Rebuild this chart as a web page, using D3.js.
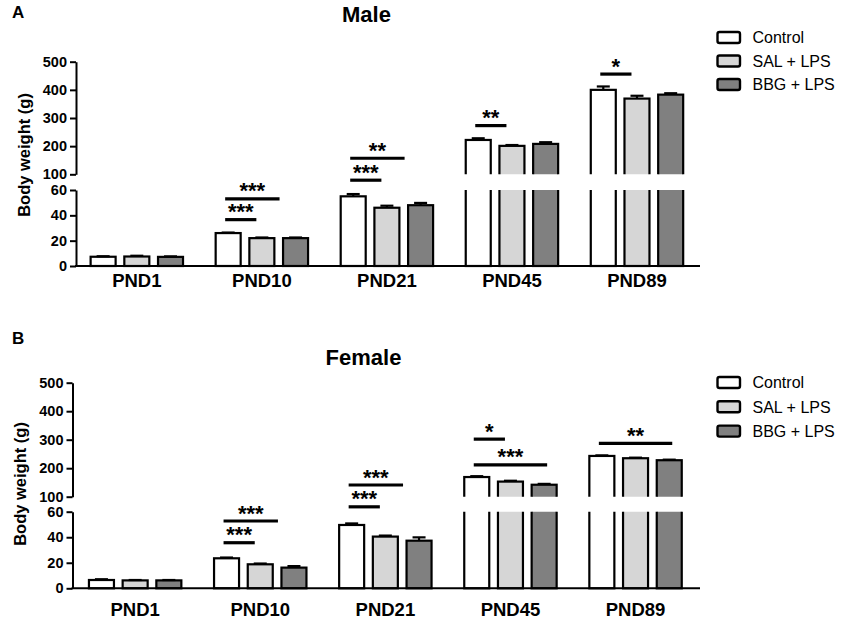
<!DOCTYPE html>
<html><head><meta charset="utf-8">
<script src="https://cdn.jsdelivr.net/npm/d3@7/dist/d3.min.js"></script>
<style>body{margin:0;background:#fff}svg{display:block}</style>
</head><body>
<svg id="chart" width="850" height="619"></svg>
<script>
// ---------- data ----------
const categories = ["PND1", "PND10", "PND21", "PND45", "PND89"];
const seriesNames = ["Control", "SAL + LPS", "BBG + LPS"];

const maleControl    = [7.3, 26, 55, 222, 400];
const maleSAL        = [7.5, 22, 46, 201, 369];
const maleBBG        = [7.2, 22, 48, 208, 383];
const maleControlErr = [0.4, 0.4, 1.8, 6, 12];
const maleSALErr     = [0.6, 0.5, 1.6, 3, 10];
const maleBBGErr     = [0.4, 0.5, 1.8, 6, 5];

const femaleControl    = [6.5, 23.5, 49.6, 169, 243];
const femaleSAL        = [6.2, 18.8, 40.5, 153, 235];
const femaleBBG        = [6.2, 16.2, 37.3, 142, 228];
const femaleControlErr = [0.6, 0.6, 1.2, 3, 2];
const femaleSALErr     = [0.3, 0.6, 0.8, 3, 2];
const femaleBBGErr     = [0.3, 1.2, 2.6, 3, 2];

const yTicksUpper = [100, 200, 300, 400, 500];
const yTicksLower = [0, 20, 40, 60];

// significance: category, from series, to series, level (y value), label
const maleSig = [
  {cat: "PND10", a: 0, b: 2, level: 53, label: "***"},
  {cat: "PND10", a: 0, b: 1, level: 36.6, label: "***"},
  {cat: "PND21", a: 0, b: 2, level: 157, label: "**"},
  {cat: "PND21", a: 0, b: 1, level: 85, label: "***"},
  {cat: "PND45", a: 0, b: 1, level: 273, label: "**"},
  {cat: "PND89", a: 0, b: 1, level: 456, label: "*"}
];
const femaleSig = [
  {cat: "PND10", a: 0, b: 2, level: 52.7, label: "***"},
  {cat: "PND10", a: 0, b: 1, level: 35.7, label: "***"},
  {cat: "PND21", a: 0, b: 2, level: 141, label: "***"},
  {cat: "PND21", a: 0, b: 1, level: 73, label: "***"},
  {cat: "PND45", a: 0, b: 1, level: 302, label: "*"},
  {cat: "PND45", a: 0, b: 2, level: 212, label: "***", wide: true},
  {cat: "PND89", a: 0, b: 2, level: 287, label: "**", wide: true}
];

// ---------- layout ----------
const fills = ["#ffffff", "#d6d6d6", "#808080"];
const FONT = "'Liberation Sans', Arial, Helvetica, sans-serif";
const svg = d3.select("#chart");

const panels = [
  {
    letter: "A", letterY: 18, title: "Male", titleX: 366.5, titleY: 21.5,
    vals: [maleControl, maleSAL, maleBBG], errs: [maleControlErr, maleSALErr, maleBBGErr],
    sig: maleSig,
    axisX: 76, xRange: [74.3, 699.5], yRange: [266, 190, 174.3, 61.7],
    labelPad: 7.7, ytitleX: 30, ytitleY: 155, legendY: 37.5, legendStep: 23.5
  },
  {
    letter: "B", letterY: 343.5, title: "Female", titleX: 363.5, titleY: 365,
    vals: [femaleControl, femaleSAL, femaleBBG], errs: [femaleControlErr, femaleSALErr, femaleBBGErr],
    sig: femaleSig,
    axisX: 72.5, xRange: [72.6, 698.1], yRange: [588.3, 511.7, 496.7, 382.7],
    labelPad: 14.3, ytitleX: 26, ytitleY: 484, legendY: 382.5, legendStep: 24.3
  }
];

panels.forEach((p, pi) => {
  const g = svg.append("g");
  const y = d3.scaleLinear().domain([0, 60, 100, 500]).range(p.yRange);
  const x0 = d3.scaleBand().domain(categories).range(p.xRange);
  const groupW = 92.4;
  const xs = d3.scaleBand().domain(d3.range(3))
    .range([(x0.step() - groupW) / 2, (x0.step() + groupW) / 2]).paddingInner(0.258);
  const bw = xs.bandwidth();

  // clip paths for the axis break
  const defs = g.append("defs");
  defs.append("clipPath").attr("id", "up" + pi).append("rect")
    .attr("x", 0).attr("y", 0).attr("width", 850).attr("height", y(100));
  defs.append("clipPath").attr("id", "lo" + pi).append("rect")
    .attr("x", 0).attr("y", y(60)).attr("width", 850).attr("height", 619 - y(60));

  const rows = [];
  categories.forEach((c, ci) => {
    for (let s = 0; s < 3; s++) rows.push({c, s, v: p.vals[s][ci], e: p.errs[s][ci]});
  });

  ["up", "lo"].forEach(k => {
    g.append("g").attr("clip-path", `url(#${k}${pi})`)
      .selectAll("rect").data(rows).join("rect")
      .attr("x", d => x0(d.c) + xs(d.s))
      .attr("y", d => y(d.v))
      .attr("width", bw)
      .attr("height", d => y(0) - y(d.v))
      .attr("fill", d => fills[d.s])
      .attr("stroke", "#000").attr("stroke-width", 2.2);
  });

  // error bars (upper whisker)
  const eg = g.append("g").attr("stroke", "#000").attr("stroke-width", 2.2);
  rows.forEach(d => {
    const cx = x0(d.c) + xs(d.s) + bw / 2;
    eg.append("line").attr("x1", cx).attr("x2", cx).attr("y1", y(d.v)).attr("y2", y(d.v + d.e));
    eg.append("line").attr("x1", cx - 6.5).attr("x2", cx + 6.5).attr("y1", y(d.v + d.e)).attr("y2", y(d.v + d.e));
  });

  // y axes (broken)
  const yUp = d3.scaleLinear().domain([100, 500]).range([y(100), y(500)]);
  const yLo = d3.scaleLinear().domain([0, 60]).range([y(0), y(60)]);
  [[yUp, yTicksUpper], [yLo, yTicksLower]].forEach(([sc, tv]) => {
    const ax = g.append("g").attr("transform", `translate(${p.axisX},0)`)
      .call(d3.axisLeft(sc).tickValues(tv).tickSize(6).tickSizeOuter(0).tickPadding(3));
    ax.selectAll("path,line").attr("stroke", "#000").attr("stroke-width", 2);
    ax.selectAll("text").attr("font-family", FONT).attr("font-size", 14.5)
      .attr("font-weight", "bold").attr("fill", "#000");
  });

  // x axis
  g.append("line").attr("x1", p.axisX - 1).attr("x2", 700).attr("y1", y(0)).attr("y2", y(0))
    .attr("stroke", "#000").attr("stroke-width", 2);
  const xa = g.append("g").attr("transform", `translate(0,${y(0)})`)
    .call(d3.axisBottom(x0).tickSize(0).tickPadding(p.labelPad));
  xa.select(".domain").remove();
  xa.selectAll("text").attr("font-family", FONT).attr("font-size", 18.5)
    .attr("font-weight", "bold").attr("fill", "#000");

  // significance annotations
  p.sig.forEach(a => {
    const x1 = x0(a.cat) + xs(a.a) + 9.5;
    const x2 = a.wide ? x0(a.cat) + xs(a.b) + bw / 2 + 3
                      : x0(a.cat) + xs(a.b) + (a.b === 1 ? 7 : -3.5);
    const ly = y(a.level);
    g.append("line").attr("x1", x1).attr("x2", x2).attr("y1", ly).attr("y2", ly)
      .attr("stroke", "#000").attr("stroke-width", 3.2);
    g.append("text").attr("x", (x1 + x2) / 2).attr("y", ly - 0.5)
      .attr("text-anchor", "middle").attr("font-family", FONT)
      .attr("font-size", 22).attr("font-weight", "bold").text(a.label);
  });

  // y title
  g.append("text").attr("transform", `translate(${p.ytitleX},${p.ytitleY}) rotate(-90)`)
    .attr("text-anchor", "middle").attr("font-family", FONT).attr("font-size", 16.5)
    .attr("font-weight", "bold").text("Body weight (g)");

  // title and panel letter
  g.append("text").attr("x", p.titleX).attr("y", p.titleY).attr("text-anchor", "middle")
    .attr("font-family", FONT).attr("font-size", 22).attr("font-weight", "bold").text(p.title);
  g.append("text").attr("x", 12).attr("y", p.letterY)
    .attr("font-family", FONT).attr("font-size", 17).attr("font-weight", "bold").text(p.letter);

  // legend
  const lg = g.append("g");
  seriesNames.forEach((n, i) => {
    const cy = p.legendY + i * p.legendStep;
    lg.append("rect").attr("x", 717.5).attr("y", cy - 5.5).attr("width", 22.5).attr("height", 11)
      .attr("rx", 2).attr("fill", fills[i]).attr("stroke", "#000").attr("stroke-width", 2.4);
    lg.append("text").attr("x", 752.5).attr("y", cy + 5.8)
      .attr("font-family", FONT).attr("font-size", 16).attr("fill", "#000").text(n);
  });
});
</script>
</body></html>
